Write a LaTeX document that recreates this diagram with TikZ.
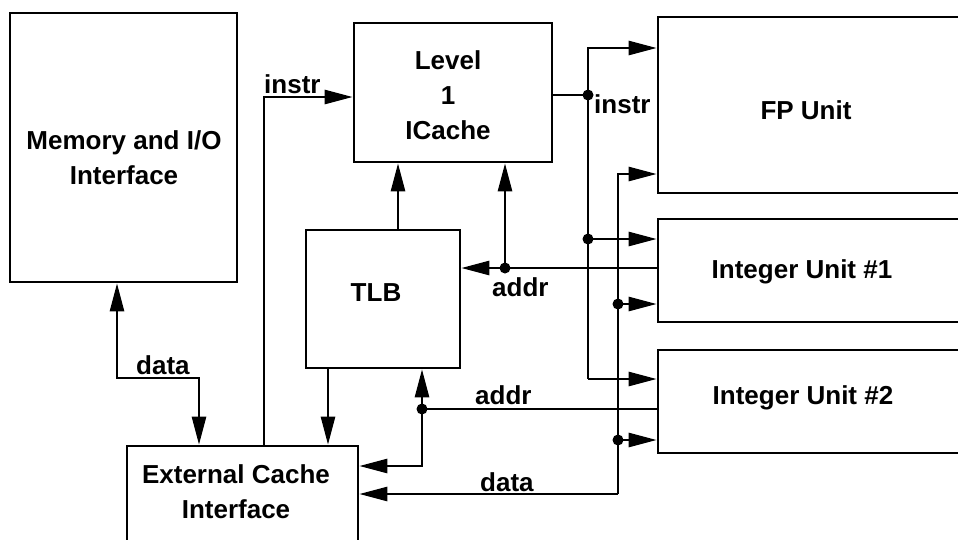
\documentclass[tikz,border=0pt]{standalone}
\usepackage{fontspec}
\setmainfont{Liberation Sans}
\usetikzlibrary{arrows.meta}
\begin{document}
\begin{tikzpicture}[x=1pt,y=-1pt,
  blk/.style={draw, line width=2.6pt, inner sep=0pt},
  txt/.style={font=\fontsize{26}{35}\selectfont\bfseries, align=center, inner sep=0pt},
  wire/.style={line width=2.6pt},
  arr/.style={wire, -{Triangle[length=28pt,width=14pt]}},
  arrdbl/.style={wire, {Triangle[length=28pt,width=14pt]}-{Triangle[length=28pt,width=14pt]}},
  jdot/.style={circle, fill, inner sep=0pt, minimum size=11pt}
]
\useasboundingbox (0,0) rectangle (958,539);
\clip (0,0) rectangle (958,539);

% boxes
\node[blk, minimum width=227pt, minimum height=269pt] (mem) at (123.5,147.5) {};
\node[blk, minimum width=198pt, minimum height=139pt] (ic) at (453,92.5) {};
\node[blk, minimum width=327pt, minimum height=176pt] (fp) at (821.5,105) {};
\node[blk, minimum width=327pt, minimum height=103pt] (iu1) at (821.5,270.5) {};
\node[blk, minimum width=327pt, minimum height=103pt] (iu2) at (821.5,401.5) {};
\node[blk, minimum width=154pt, minimum height=138pt] (tlb) at (383,299) {};
\node[blk, minimum width=231pt, minimum height=114pt] (ext) at (242.5,503) {};

% box texts
\node[txt] (memT) at (124,158) {Memory and I/O\\Interface};
\node[txt] (icT) at (448,95) {Level\\1\\ICache};
\node[txt] (fpT) at (806,110) {FP Unit};
\node[txt] (iu1T) at (802,272) {Integer Unit \#1};
\node[txt] (iu2T) at (803,398) {Integer Unit \#2};
\node[txt] (tlbT) at (376,293) {TLB};
\node[txt] (extT) at (236,492) {External Cache\\Interface};

% coordinates
\coordinate (dMem) at (117,378);
\coordinate (dExt) at (199,378);
\coordinate (iA) at (264,97);
\coordinate (j1) at (588,95);
\coordinate (c1) at (588,48);
\coordinate (j2) at (588,239);
\coordinate (c2) at (588,379);
\coordinate (c3) at (618,174);
\coordinate (j5) at (618,304);
\coordinate (j6) at (618,440);
\coordinate (c4) at (618,494);
\coordinate (j3) at (505,268);
\coordinate (j4) at (422,409);
\coordinate (c5) at (422,466);
\coordinate (tA) at (398,200);
\coordinate (tB) at (328,400);

% memory <-> external cache data
\draw[arrdbl] (mem.south -| dMem) -- (dMem) -- (dExt) -- (dExt |- ext.north);
% instr to icache
\draw[arr] (ext.north -| iA) -- (iA) -- (iA -| ic.west);
% icache instr out
\draw[wire] (ic.east |- j1) -- (j1);
\draw[arr] (j1) -- (c1) -- (c1 -| fp.west);
\draw[wire] (j1) -- (c2);
\draw[arr] (j2) -- (j2 -| iu1.west);
\draw[arr] (c2) -- (c2 -| iu2.west);
% data bus
\draw[arr] (c4) -- (c3) -- (c3 -| fp.west);
\draw[arr] (j5) -- (j5 -| iu1.west);
\draw[arr] (j6) -- (j6 -| iu2.west);
\draw[arr] (c4) -- (c4 -| ext.east);
% addr from IU1
\draw[arr] (iu1.west |- j3) -- (j3 -| tlb.east);
\draw[arr] (j3) -- (j3 |- ic.south);
% addr from IU2
\draw[arr] (iu2.west |- j4) -- (j4) -- (j4 |- tlb.south);
\draw[arr] (j4) -- (c5) -- (c5 -| ext.east);
% TLB links
\draw[arr] (tA |- tlb.north) -- (tA |- ic.south);
\draw[arr] (tB |- tlb.south) -- (tB |- ext.north);

% junction dots
\foreach \j in {j1,j2,j3,j4,j5,j6} \node[jdot] at (\j) {};

% labels
\node[txt, anchor=base west] (lInstr1) at (264,93) {instr};
\node[txt, anchor=base west] (lInstr2) at (594,113) {instr};
\node[txt, anchor=base west] (lAddr1) at (492,296) {addr};
\node[txt, anchor=base west] (lAddr2) at (475,404) {addr};
\node[txt, anchor=base west] (lData1) at (136,374) {data};
\node[txt, anchor=base west] (lData2) at (480,491) {data};
\end{tikzpicture}
\end{document}
